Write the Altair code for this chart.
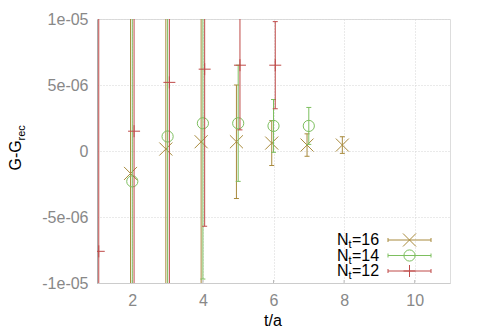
import altair as alt
import pandas as pd

# ---- data ----
series_names = ["16", "14", "12"]
t16 = [2, 3, 4, 5, 6, 7, 8]
g16 = [-1.7e-6, 0.15e-6, 0.7e-6, 0.7e-6, 0.6e-6, 0.45e-6, 0.45e-6]
e16 = [2.2e-5, 1.7e-5, 1.2e-5, 4.3e-6, 1.7e-6, 0.85e-6, 0.63e-6]

t14 = [2, 3, 4, 5, 6, 7]
g14 = [-2.3e-6, 1.1e-6, 2.1e-6, 2.1e-6, 1.9e-6, 1.9e-6]
e14 = [2.4e-5, 1.8e-5, 1.18e-5, 4.4e-6, 2.0e-6, 1.4e-6]

t12 = [1, 2, 3, 4, 5, 6]
g12 = [-7.6e-6, 1.5e-6, 5.2e-6, 6.2e-6, 6.5e-6, 6.5e-6]
e12 = [3.0e-5, 2.5e-5, 2.0e-5, 1.19e-5, 4.9e-6, 3.3e-6]

x_ticks = [2, 4, 6, 8, 10]
y_ticks = [-1e-5, -5e-6, 0, 5e-6, 1e-5]

# ---- styling ----
FONT = "Liberation Sans"
colors = {"16": "#a88a3c", "14": "#7dbf5f", "12": "#bf4a48"}
offsets = {"16": -0.05, "14": 0.0, "12": 0.05}
shapes = {
    "16": ("M-1,-1L1,1M-1,1L1,-1", 170),
    "14": ("circle", 125),
    "12": ("M-1,0L1,0M0,-1L0,1", 144),
}
raw = {"16": (t16, g16, e16), "14": (t14, g14, e14), "12": (t12, g12, e12)}

W, H = 353, 264
xs = alt.Scale(domain=[1, 11], nice=False, zero=False)
ys = alt.Scale(domain=[-1e-5, 1e-5], nice=False, zero=False)

layers = []

base_df = pd.DataFrame({"x": [1, 11], "y": [-1e-5, 1e-5]})
frame = alt.Chart(base_df).mark_point(opacity=0).encode(
    x=alt.X("x:Q", scale=xs, axis=alt.Axis(
        values=x_ticks, title=None, grid=True, ticks=False,
        labelFontSize=16, labelColor="#888888", labelFont=FONT,
        labelPadding=9, domainColor="#cccccc", labelFlush=False,
        gridColor="#d4d4d4", gridDash=[1, 2])),
    y=alt.Y("y:Q", scale=ys, axis=alt.Axis(
        values=y_ticks, title=None, grid=True, ticks=False,
        labelExpr="datum.value == 0 ? '0' : (datum.value < 0 ? '-' : '') + replace(format(abs(datum.value), '.0e'), 'e-', 'e-0')",
        labelFontSize=16, labelColor="#888888", labelFont=FONT,
        labelPadding=9, domainColor="#aaaaaa", labelFlush=False,
        gridColor="#d4d4d4", gridDash=[1, 2])),
)
layers.append(frame)

tick_df = pd.DataFrame({"x": x_ticks})
layers.append(alt.Chart(tick_df).mark_rule(color="#bbbbbb").encode(
    x=alt.X("x:Q", scale=xs), y=alt.value(H), y2=alt.value(H - 3)))

for name in series_names:
    ts, gs, es = raw[name]
    df = pd.DataFrame({"t": ts, "g": gs, "e": es})
    df["x"] = df["t"] + offsets[name]
    df["lo"] = df["g"] - df["e"]
    df["hi"] = df["g"] + df["e"]
    c = colors[name]
    base = alt.Chart(df)
    layers.append(base.mark_rule(color=c, strokeWidth=1, clip=True).encode(
        x=alt.X("x:Q", scale=xs), y=alt.Y("lo:Q", scale=ys), y2="hi:Q"))
    for col in ["lo", "hi"]:
        layers.append(base.mark_point(shape="M-1,0L1,0", size=25, filled=False,
                                      color=c, strokeWidth=1, opacity=1, clip=True).encode(
            x=alt.X("x:Q", scale=xs), y=alt.Y(f"{col}:Q", scale=ys)))
    shp, sz = shapes[name]
    layers.append(base.mark_point(shape=shp, size=sz, filled=False, color=c,
                                  strokeWidth=1, opacity=1, clip=True).encode(
        x=alt.X("x:Q", scale=xs), y=alt.Y("g:Q", scale=ys)))

# ---- legend (manual, for subscripts) ----
one = pd.DataFrame({"a": [0]})
for i, name in enumerate(series_names):
    c = colors[name]
    yy = 221 + 15.5 * i
    layers.append(alt.Chart(one).mark_rule(color=c, strokeWidth=1).encode(
        x=alt.value(291), x2=alt.value(334), y=alt.value(yy)))
    for xx in (291, 334):
        layers.append(alt.Chart(one).mark_rule(color=c, strokeWidth=1).encode(
            x=alt.value(xx), y=alt.value(yy - 2), y2=alt.value(yy + 2)))
    shp, sz = shapes[name]
    layers.append(alt.Chart(one).mark_point(shape=shp, size=sz, filled=False, color=c,
                                            strokeWidth=1, opacity=1).encode(
        x=alt.value(312.5), y=alt.value(yy)))
    layers.append(alt.Chart(one).mark_text(align="left", baseline="middle", fontSize=16,
                                           font=FONT, color="black").encode(
        x=alt.value(240), y=alt.value(yy), text=alt.value("N")))
    layers.append(alt.Chart(one).mark_text(align="left", baseline="middle", fontSize=11,
                                           font=FONT, color="black").encode(
        x=alt.value(251.5), y=alt.value(yy + 5), text=alt.value("t")))
    layers.append(alt.Chart(one).mark_text(align="left", baseline="middle", fontSize=16,
                                           font=FONT, color="black").encode(
        x=alt.value(255), y=alt.value(yy), text=alt.value("=" + name)))

# ---- axis titles ----
layers.append(alt.Chart(one).mark_text(align="center", baseline="middle", fontSize=16,
                                       font=FONT, color="black").encode(
    x=alt.value(176), y=alt.value(302), text=alt.value("t/a")))
layers.append(alt.Chart(one).mark_text(align="left", baseline="alphabetic", fontSize=16,
                                       font=FONT, color="black", angle=270).encode(
    x=alt.value(-76), y=alt.value(151.5), text=alt.value("G-G")))
layers.append(alt.Chart(one).mark_text(align="left", baseline="alphabetic", fontSize=11,
                                       font=FONT, color="black", angle=270).encode(
    x=alt.value(-72), y=alt.value(121.5), text=alt.value("rec")))

chart = alt.layer(*layers).properties(
    width=W, height=H,
    autosize=alt.AutoSizeParams(type="none"),
    padding={"left": 89, "top": 11, "right": 20, "bottom": 46},
).configure_view(stroke=None).configure(background="white")

chart.save("out.html", embed_options={"renderer": "svg", "actions": False})
